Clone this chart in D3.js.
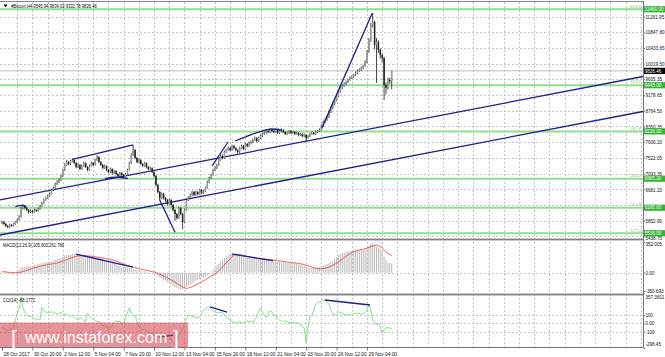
<!DOCTYPE html>
<html><head><meta charset="utf-8">
<script src="https://cdn.jsdelivr.net/npm/d3@7"></script>
<style>body{margin:0;background:#fff}svg{display:block}</style>
</head><body>
<svg id="c" width="665" height="357"></svg>
<script>
// ---------- DATA ----------
const symbolHeader = "#Bitcoin,H4  9545.94 9834.03 9332.78 9826.46";
const firstOpen = 5790;
const closes = [5816,5763,5710,5683,5736,5710,5763,5816,5869,5948,
6187,6240,6187,6134,6081,6108,6081,6134,6108,6161,
6240,6320,6400,6453,6506,6559,6665,6718,6824,6877,
6930,7036,7196,7328,7408,7355,7434,7461,7381,7275,
7328,7222,7302,7381,7275,7196,7302,7381,7328,7461,
7541,7408,7328,7249,7302,7196,7143,7222,7116,7169,
7089,7036,7116,7063,7010,7089,7196,7381,7594,7726,
7514,7408,7461,7355,7302,7381,7275,7222,7249,7143,
7036,6798,6612,6453,6559,6453,6400,6293,6400,6267,
6134,6028,5922,6187,6028,5816,6134,6400,6453,6532,
6612,6532,6612,6559,6665,6586,6639,6718,6877,6983,
7063,7196,7249,7328,7461,7567,7514,7673,7726,7779,
7726,7832,7779,7726,7673,7779,7832,7752,7886,7832,
7912,7939,7992,8045,7965,8045,8098,8151,8177,8231,
8204,8257,8231,8204,8257,8177,8231,8257,8204,8151,
8177,8231,8177,8204,8151,8177,8124,8151,8098,8124,
8045,8098,8151,8177,8151,8204,8231,8257,8363,8469,
8523,8602,8735,8841,8947,9053,9159,9265,9372,9425,
9478,9531,9584,9637,9664,9717,9770,9823,9849,9902,
9955,10062,10327,10645,11043,11123,10513,10592,10380,10247,
10168,9451,9372,9584,9545.94,9826.46];
const highs = [5850,5840,5790,5740,5770,5760,5790,5840,5900,5990,
6230,6290,6270,6210,6160,6150,6140,6170,6160,6200,
6270,6350,6440,6490,6540,6600,6700,6760,6860,6920,
6970,7070,7230,7370,7470,7440,7470,7500,7480,7400,
7370,7350,7340,7420,7400,7300,7340,7420,7410,7500,
7594,7560,7430,7350,7340,7320,7220,7260,7240,7200,
7190,7110,7150,7140,7090,7120,7230,7420,7640,7859,
7750,7540,7500,7480,7380,7410,7400,7300,7290,7270,
7160,7060,6830,6640,6600,6590,6480,6430,6440,6420,
6290,6160,6060,6230,6210,6060,6170,6440,6500,6570,
6650,6640,6650,6640,6700,6690,6670,6750,6910,7020,
7100,7230,7290,7360,7500,7610,7600,7710,7760,7820,
7810,7870,7860,7800,7750,7810,7870,7860,7920,7910,
7950,7980,8030,8080,8070,8080,8140,8190,8220,8270,
8260,8300,8290,8260,8290,8280,8260,8300,8280,8230,
8210,8260,8250,8240,8230,8210,8200,8180,8170,8160,
8150,8130,8180,8210,8200,8240,8260,8300,8400,8510,
8570,8640,8780,8880,8990,9100,9200,9310,9420,9470,
9520,9570,9620,9680,9700,9750,9810,9860,9890,9940,
9990,10110,10380,10700,11100,11362,11160,10700,10640,10420,
10300,10200,9520,9640,9650,9834.03];
const lows = [5760,5730,5680,5650,5660,5690,5690,5740,5790,5850,
5930,6150,6150,6100,6040,6050,6040,6060,6080,6090,
6140,6220,6300,6380,6430,6480,6540,6640,6700,6800,
6850,6900,7010,7170,7300,7320,7330,7400,7350,7240,
7250,7190,7200,7280,7250,7160,7170,7280,7300,7310,
7440,7380,7300,7220,7230,7160,7100,7120,7080,7090,
7050,7000,7010,7030,6985,6990,7070,7180,7360,7570,
7480,7370,7380,7320,7270,7280,7240,7190,7200,7110,
7000,6760,6570,6410,6420,6410,6350,6250,6270,6220,
6090,5840,5880,5900,5990,5630,5790,6110,6370,6420,
6500,6500,6510,6530,6540,6560,6560,6610,6700,6850,
6960,7040,7170,7220,7300,7440,7480,7490,7650,7700,
7690,7700,7740,7690,7630,7650,7750,7720,7730,7800,
7810,7880,7910,7960,7930,7940,8020,8070,8120,8150,
8170,8180,8200,8170,8180,8150,8150,8200,8170,8120,
8120,8150,8150,8150,8120,8130,8090,8100,8060,8070,
7940,8020,8070,8130,8120,8130,8180,8210,8240,8340,
8440,8500,8580,8710,8810,8920,9020,9130,9240,9340,
9400,9450,9500,9560,9610,9640,9690,9740,9800,9820,
9870,9930,10030,10300,10600,10980,10400,9504,10300,10150,
10050,9053,9200,9330,9480,9332.78];
const macdMain = [5,0,-5,-10,-8,-10,-5,5,20,35,
55,65,70,72,70,72,75,85,95,100,
105,110,115,118,120,122,130,138,145,152,
160,175,190,198,205,208,210,212,214,212,
210,205,200,197,195,192,190,185,180,175,
172,170,165,157,152,148,145,140,130,120,
105,90,80,72,65,60,58,55,50,45,
38,30,24,20,15,12,10,5,0,-5,
-15,-35,-65,-90,-110,-135,-160,-185,-200,-225,
-250,-275,-295,-305,-315,-320,-300,-275,-255,-230,
-205,-180,-155,-135,-120,-105,-90,-75,-50,-25,
0,30,55,80,100,130,150,170,190,205,
215,225,222,212,205,198,194,190,182,178,
175,170,168,165,162,158,157,156,155,150,
146,142,138,135,131,128,125,122,120,118,
115,112,110,107,104,100,97,92,88,82,
70,62,58,55,57,60,62,65,72,80,
90,100,110,122,135,160,180,200,215,228,
235,240,248,250,252,255,256,258,258,260,
260,265,280,310,340,345,320,300,285,270,
255,190,150,120,110,105.9];
const macdSignal = [12,11,9,6,4,2,0,-1,0,2,
6,12,20,28,35,42,50,56,62,68,
74,79,84,88,92,96,100,104,108,113,
118,124,132,140,150,158,166,174,182,188,
192,194,195,195,194,193,191,189,186,183,
180,177,174,170,166,162,158,154,148,142,
134,125,116,107,98,90,82,76,70,64,
58,52,46,41,36,31,27,22,18,13,
8,0,-12,-28,-45,-62,-80,-98,-118,-138,
-160,-182,-205,-228,-250,-270,-290,-300,-295,-282,
-268,-252,-235,-215,-195,-175,-155,-135,-112,-90,
-68,-45,-22,0,22,45,68,90,112,135,
160,185,205,212,212,208,202,196,190,185,
180,176,172,168,165,162,160,158,156,154,
152,150,147,144,141,138,135,132,129,126,
123,120,117,114,111,108,105,102,98,93,
87,80,72,65,58,52,48,45,45,48,
52,58,65,74,84,96,110,125,140,156,
172,188,204,218,230,240,248,254,260,265,
270,275,282,290,298,306,312,316,312,300,
285,262,240,222,208,196];
const cciValues = [-45,-60,-81,-90,-70,-75,-50,30,120,170,
316,190,130,105,80,90,75,60,45,50,
40,196,150,135,123,130,140,120,125,110,
120,135,105,100,115,90,80,100,70,55,
45,70,60,30,20,123,80,60,50,30,
20,15,0,-20,-45,-30,-81,-60,-20,10,
30,15,25,-10,0,60,130,184,120,90,
99,20,-45,-60,-81,-70,-90,-100,-110,-117,
-130,-150,-166,-142,-150,-160,-166,-150,-141,-202,
-230,-262,-220,-150,-117,-80,3,60,99,90,
85,75,70,63,80,120,150,180,190,196,
170,150,135,130,125,135,123,110,75,50,
39,20,10,3,5,15,10,5,20,30,
15,25,10,40,80,130,184,130,90,75,
110,150,135,100,99,60,40,30,15,30,
20,10,3,15,5,10,3,-21,-40,-57,
-238,-50,75,99,160,230,244,256,270,275,
280,256,230,160,110,99,120,135,130,123,
110,99,105,99,110,115,120,123,115,110,
115,130,160,220,160,40,15,-21,3,-45,
-117,-80,-57,-45,-57,-68.1772];
const timeLabels = ["28 Oct 2017","30 Oct 20:00","2 Nov 12:00","5 Nov 04:00","7 Nov 20:00","10 Nov 12:00","13 Nov 04:00","15 Nov 20:00","18 Nov 12:00","21 Nov 04:00","23 Nov 20:00","26 Nov 12:00","29 Nov 04:00"];
const timeTickIndex = [0,16,32,48,64,80,96,112,128,144,160,176,192];
const priceTicks = [11261.95,10847.80,10433.65,10019.50,9605.35,9178.65,8764.50,8350.35,7936.20,7522.05,7093.35,6681.20,6267.05,5852.90,5438.75];
const hiddenPriceTick = 6267.05; // covered by the 161.8 level tag in the original
const fibLevels = [11460,9445,8220,6965,6195,5516];
const fibNames = ["423.6","323.6","261.8","200.0","161.8","127.2"];
const lastPrice = 9826.46;
const macdTicks = [352.005,0,-350.693];
const macdTickText = ["352.005","0.00","-350.693"];
const cciTicks = [357.3811,100,0,-100,-298.45];
const cciTickText = ["357.3811","100","0.00","-100","-298.45"];
const macdTitle = "MACD(12,26,9) 105.900 261.766";
const cciTitle = "CCI(14) -68.1772";
// trend lines as [bar index, value]
const channelUpper = [[-1.05,6400],[337.2,9677]];
const channelLower = [[-1.05,5471],[337.2,8748]];
const priceLines = [
  [[37,7480],[69,7860]],
  [[7,6225],[10,6255],[13,6225]],
  [[54.2,6965],[60,7004],[66.3,6965]],
  [[82.8,6418],[91,5542]],
  [[110.5,7302],[118.9,7939]],
  [[122.6,7965],[130.5,8124],[136.8,8230],[142,8284],[147.3,8257]],
  [[168.2,8300],[194.8,11360]]
];
const macdLines = [[[38.9,214],[68.9,65]],[[121,214],[142.6,138]]];
const cciLines = [[[109.4,196],[118.4,135]],[[169.9,280],[193.6,220]],[[82.6,-166],[90,-142]]];

// ---------- CHART ----------
const FONT = '"Liberation Sans",Arial,sans-serif';
const FS = 4.6;      // axis / tag font
const FT = 5.6;      // titles
const svg = d3.select("#c").attr("font-family", FONT);
const RIGHT = 643.5;
const x = d3.scaleLinear().domain([0,205]).range([2,391.7]);
const yP = d3.scaleLinear().domain([5516,11460]).range([233.3,9.3]);
const yM = d3.scaleLinear().domain([-350.693,0,352.005]).range([291,272.7,242]);
const yC = d3.scaleLinear().domain([-298.45,357.3811]).range([348,293.6]);
const BLUE = "#1e1e8e";

// narrow terminal-style titles
const probe = svg.append("text").attr("font-size",FT).text("11261.95");
const K = 17 / probe.node().getComputedTextLength();
probe.remove();
function squeeze(sel){
  sel.each(function(){
    const w = this.getComputedTextLength();
    d3.select(this).attr("textLength", (w*K).toFixed(2)).attr("lengthAdjust","spacingAndGlyphs");
  });
}

const defs = svg.append("defs");
function clip(id, y0, y1){ defs.append("clipPath").attr("id",id).append("rect").attr("x",0).attr("y",y0).attr("width",RIGHT).attr("height",y1-y0); }
clip("cm",2,238.5); clip("cmacd",240.5,293.5); clip("ccci",295.5,347);

// grid vertical
const gridIdx = d3.range(1,43).map(k=>k*8);
svg.append("g").selectAll("line").data(gridIdx).join("line")
  .attr("x1",d=>Math.round(x(d))+0.5).attr("x2",d=>Math.round(x(d))+0.5)
  .attr("y1",2).attr("y2",347).attr("stroke","#c4c4c4").attr("stroke-width",1).attr("stroke-dasharray","2,2");
// grid horizontal
const hg = svg.append("g").attr("stroke","#c4c4c4").attr("stroke-dasharray","2,2");
hg.selectAll(".p").data(priceTicks).join("line").attr("x1",0).attr("x2",RIGHT)
  .attr("y1",d=>Math.round(yP(d))+0.5).attr("y2",d=>Math.round(yP(d))+0.5);
hg.append("line").attr("x1",0).attr("x2",RIGHT).attr("y1",Math.round(yM(0))+0.5).attr("y2",Math.round(yM(0))+0.5);
hg.selectAll(".c").data([100,0,-100]).join("line").attr("x1",0).attr("x2",RIGHT)
  .attr("y1",d=>Math.round(yC(d))+0.5).attr("y2",d=>Math.round(yC(d))+0.5);

// main panel
const gm = svg.append("g").attr("clip-path","url(#cm)");
gm.selectAll(".fib").data(fibLevels).join("line")
  .attr("x1",0).attr("x2",RIGHT).attr("y1",d=>yP(d)).attr("y2",d=>yP(d))
  .attr("stroke","#8ee08e").attr("stroke-width",2);
gm.selectAll(".fibt").data(fibLevels).join("text")
  .attr("x",641).attr("y",d=>yP(d)-1.8).attr("text-anchor","end")
  .attr("font-size",4.4).attr("fill","#7acc7a").text((d,i)=>fibNames[i]);
gm.append("line").attr("x1",0).attr("x2",RIGHT).attr("y1",yP(lastPrice)).attr("y2",yP(lastPrice))
  .attr("stroke","#bdbdbd").attr("stroke-width",1);

const line2 = d3.line().x(d=>x(d[0]));
gm.selectAll(".ch").data([channelUpper,channelLower]).join("path")
  .attr("d",line2.y(d=>yP(d[1]))).attr("fill","none").attr("stroke",BLUE).attr("stroke-width",1.3);

const candles = closes.map((c,i)=>({i,o:i===0?firstOpen:closes[i-1],c,h:highs[i],l:lows[i]}));
gm.selectAll(".wick").data(candles).join("line")
  .attr("x1",d=>x(d.i)).attr("x2",d=>x(d.i)).attr("y1",d=>yP(d.h)).attr("y2",d=>yP(d.l))
  .attr("stroke","#1a1a1a").attr("stroke-width",0.8);
gm.selectAll(".body").data(candles).join("rect")
  .attr("x",d=>x(d.i)-0.75).attr("width",1.5)
  .attr("y",d=>yP(Math.max(d.o,d.c))).attr("height",d=>Math.max(0.6,Math.abs(yP(d.o)-yP(d.c))))
  .attr("fill",d=>d.c>=d.o?"#9a9a9a":"#222").attr("stroke","none");

gm.selectAll(".tl").data(priceLines).join("path")
  .attr("d",d3.line().x(d=>x(d[0])).y(d=>yP(d[1])).curve(d3.curveMonotoneX))
  .attr("fill","none").attr("stroke",BLUE).attr("stroke-width",1.3);

// MACD panel
const gmacd = svg.append("g").attr("clip-path","url(#cmacd)");
gmacd.selectAll(".h").data(macdMain).join("line")
  .attr("x1",(d,i)=>x(i)).attr("x2",(d,i)=>x(i)).attr("y1",yM(0)).attr("y2",d=>yM(d))
  .attr("stroke","#bcbcbc").attr("stroke-width",1);
gmacd.append("path").datum(macdSignal)
  .attr("d",d3.line().x((d,i)=>x(i)).y(d=>yM(d)))
  .attr("fill","none").attr("stroke","#f04a4a").attr("stroke-width",0.9);
gmacd.selectAll(".ml").data(macdLines).join("path")
  .attr("d",d3.line().x(d=>x(d[0])).y(d=>yM(d[1])))
  .attr("fill","none").attr("stroke",BLUE).attr("stroke-width",1.3);

// CCI panel
const gcci = svg.append("g").attr("clip-path","url(#ccci)");
gcci.append("path").datum(cciValues)
  .attr("d",d3.line().x((d,i)=>x(i)).y(d=>yC(d)))
  .attr("fill","none").attr("stroke","#86e286").attr("stroke-width",1);
gcci.selectAll(".cl").data(cciLines).join("path")
  .attr("d",d3.line().x(d=>x(d[0])).y(d=>yC(d[1])))
  .attr("fill","none").attr("stroke",BLUE).attr("stroke-width",1.3);

// frame / separators
svg.append("line").attr("x1",0).attr("x2",RIGHT).attr("y1",1.5).attr("y2",1.5).attr("stroke","#888");
svg.append("line").attr("x1",RIGHT).attr("x2",RIGHT).attr("y1",1).attr("y2",347.5).attr("stroke","#777");
svg.append("rect").attr("x",0).attr("y",238.6).attr("width",RIGHT).attr("height",1.8).attr("fill","#808080");
svg.append("rect").attr("x",0).attr("y",293.6).attr("width",RIGHT).attr("height",1.8).attr("fill","#808080");
svg.append("line").attr("x1",0).attr("x2",RIGHT).attr("y1",347.5).attr("y2",347.5).attr("stroke","#777");

// axes
function styleAxis(g){ g.select(".domain").remove(); g.selectAll(".tick line").attr("stroke","#777"); g.selectAll(".tick text").attr("fill","#111"); }
svg.append("g").attr("transform",`translate(${RIGHT},0)`)
  .call(d3.axisRight(yP).tickValues(priceTicks.filter(v=>v!==hiddenPriceTick)).tickFormat(d=>d.toFixed(2)).tickSize(1.5).tickPadding(0.4))
  .attr("font-size",FS).attr("font-family",FONT).call(styleAxis)
  .call(g=>g.selectAll(".tick text").attr("dy",d=>d===5438.75?"0.62em":"0.35em"));
svg.append("g").attr("transform",`translate(${RIGHT},0)`)
  .call(d3.axisRight(yM).tickValues(macdTicks).tickFormat((d,i)=>macdTickText[i]).tickSize(1.5).tickPadding(0.4))
  .attr("font-size",FS).attr("font-family",FONT).call(styleAxis)
  .call(g=>g.selectAll(".tick text").attr("dy",d=>d===352.005?"0.75em":"0.32em"));
svg.append("g").attr("transform",`translate(${RIGHT},0)`)
  .call(d3.axisRight(yC).tickValues(cciTicks).tickFormat((d,i)=>cciTickText[i]).tickSize(1.5).tickPadding(0.4))
  .attr("font-size",FS).attr("font-family",FONT).call(styleAxis)
  .call(g=>g.selectAll(".tick text").attr("dy",d=>d===357.3811?"1.1em":d===-298.45?"-0.6em":"0.32em"));
svg.append("g").attr("transform","translate(0,347.5)")
  .call(d3.axisBottom(x).tickValues(timeTickIndex).tickFormat((d,i)=>timeLabels[i]).tickSize(3).tickPadding(1))
  .attr("font-size",4.8).attr("font-family",FONT).call(styleAxis)
  .call(g=>g.selectAll(".tick text").attr("text-anchor","start").attr("x",1).attr("dy","0.9em"));

// value tags on the price axis
const tag = svg.append("g").attr("font-size",FS);
tag.selectAll(".ft").data(fibLevels).join("rect")
  .attr("x",RIGHT+0.5).attr("y",d=>yP(d)-3.1).attr("width",21).attr("height",6.2).attr("fill","#33b533");
tag.selectAll(".ftt").data(fibLevels).join("text")
  .attr("x",RIGHT+1.2).attr("y",d=>yP(d)+1.65).attr("fill","#fff").text(d=>d.toFixed(2));
tag.append("rect").attr("x",RIGHT+0.5).attr("y",yP(lastPrice)-3.1).attr("width",21).attr("height",6.2).attr("fill","#000");
tag.append("text").attr("x",RIGHT+1.2).attr("y",yP(lastPrice)+1.65).attr("fill","#fff").text(lastPrice.toFixed(2));

// titles
svg.append("path").attr("d","M3.5,4.5 L7.5,4.5 L5.5,7.2 Z").attr("fill","#000");
svg.append("text").attr("x",11).attr("y",7.5).attr("font-size",FT).attr("fill","#000").text(symbolHeader).call(squeeze);
svg.append("text").attr("x",3).attr("y",246.5).attr("font-size",FT).attr("fill","#000").text(macdTitle).call(squeeze);
svg.append("text").attr("x",3).attr("y",301.5).attr("font-size",FT).attr("fill","#000").text(cciTitle).call(squeeze);

// watermark
const wm = svg.append("g");
wm.append("rect").attr("x",0).attr("y",322.5).attr("width",188).attr("height",24.5)
  .attr("fill","rgb(210,60,70)").attr("opacity",0.55);
wm.append("text").attr("x",11).attr("y",345).attr("font-size",21).attr("font-family","Liberation Sans, Arial, sans-serif")
  .attr("fill","#fff").text("[");
wm.append("text").attr("x",25).attr("y",343.3).attr("font-size",16).attr("font-family","Liberation Sans, Arial, sans-serif")
  .attr("fill","#fff").text("www.instaforex.com");
wm.append("text").attr("x",173).attr("y",345).attr("font-size",21).attr("font-family","Liberation Sans, Arial, sans-serif")
  .attr("fill","#fff").text("]");
</script>
</body></html>
